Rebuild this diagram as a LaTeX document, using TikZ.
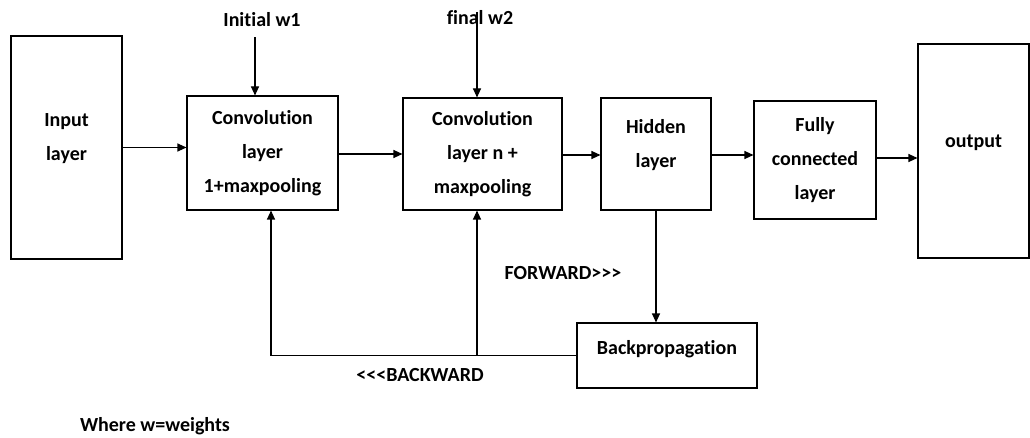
\documentclass[tikz,border=0pt]{standalone}
\usepackage{fontspec}
\setmainfont{Carlito}[Ligatures={TeXOff,NoCommon}]
\usetikzlibrary{arrows.meta}

\tikzset{
  box/.style={draw, line width=1.1pt, align=center, inner sep=0pt,
    font=\fontsize{20}{34}\selectfont\bfseries},
  arr/.style={line width=1.1pt, -{Triangle[length=9pt,width=8pt]}},
  link/.style={line width=1.1pt},
  tag/.style={inner sep=0pt, font=\fontsize{20}{24}\selectfont\bfseries},
}

\begin{document}
\begin{tikzpicture}[x=1pt, y=-1pt]
  \useasboundingbox (0,0) rectangle (1030,438);

  % processing blocks
  \node[box, minimum width=111pt, minimum height=223pt, text depth=20pt] (input) at (66.5,147.5) {Input\\layer};
  \node[box, minimum width=151pt, minimum height=114pt] (conv1) at (262.5,153) {Convolution\\layer\\1+maxpooling};
  \node[box, minimum width=159pt, minimum height=112pt] (conv2) at (482.5,154) {Convolution\\layer n +\\maxpooling};
  \node[box, minimum width=110pt, minimum height=112pt, text depth=22pt] (hidden) at (656,154) {Hidden\\layer};
  \node[box, minimum width=122pt, minimum height=118pt] (fc) at (815,160) {Fully\\connected\\layer};
  \node[box, minimum width=111pt, minimum height=214pt, text depth=20pt] (output) at (973.5,151) {output};
  \node[box, minimum width=180pt, minimum height=65pt, text depth=17pt] (bp) at (667,355.5) {Backpropagation};

  % weight inputs
  \node[tag] (w1) at (262,20) {Initial w1};
  \node[tag] (w2) at (480,18) {final w2};
  \draw[arr] ([xshift=-7pt,yshift=-10pt]w1.south) -- ([xshift=-7.5pt]conv1.north);
  \draw[arr] ([xshift=-3pt,yshift=6pt]w2.center) -- ([xshift=-5.5pt]conv2.north);

  % forward chain
  \draw[arr] (input.east) -- (input.east -| conv1.west);
  \draw[arr] ([yshift=-1pt]conv1.east) -- ([yshift=-1pt]conv1.east -| conv2.west);
  \draw[arr] ([yshift=-1pt]conv2.east) -- ([yshift=-1pt]conv2.east -| hidden.west);
  \draw[arr] ([yshift=-1pt]hidden.east) -- ([yshift=-1pt]hidden.east -| fc.west);
  \draw[arr] ([yshift=2pt]fc.east) -- ([yshift=2pt]fc.east -| output.west);
  \draw[arr] (hidden.south) -- (hidden.south |- bp.north);

  % backward path
  \draw[arr] (bp.west) -| ([xshift=8.5pt]conv1.south);
  \draw[arr] ([xshift=-5.5pt]conv2.south |- bp.west) -- ([xshift=-5.5pt]conv2.south);

  % annotations
  \node[tag] (fwd) at (563,273) {FORWARD>{}>{}>};
  \node[tag] (bwd) at (420,375) {<{}<{}<BACKWARD};
  \node[tag] (note) at (155,426) {Where w=weights};
\end{tikzpicture}
\end{document}
